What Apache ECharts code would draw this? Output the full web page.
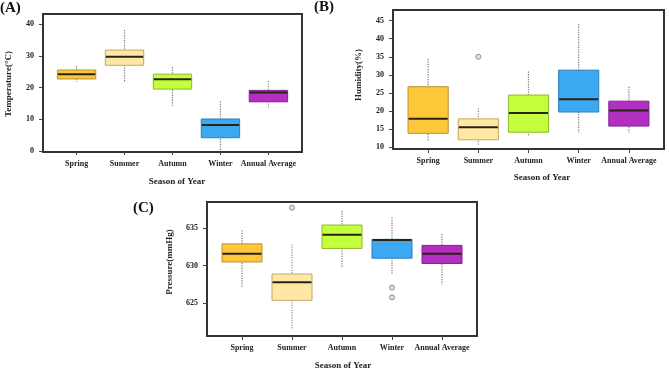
<!DOCTYPE html>
<html>
<head>
<meta charset="utf-8">
<script src="https://cdn.jsdelivr.net/npm/echarts@6/dist/echarts.min.js"></script>
<style>html,body{margin:0;padding:0;background:#fff}#c{width:669px;height:371px}</style>
</head>
<body>
<div id="c"></div>
<script>
// ---- data ----
const seasons = ['Spring', 'Summer', 'Autumn', 'Winter', 'Annual Average'];
// [min, Q1, median, Q3, max] per season
const tempStats = [
  [21.8, 22.7, 24.2, 25.5, 26.8],
  [21.8, 27.0, 29.7, 31.8, 38.1],
  [14.3, 19.5, 22.6, 24.2, 26.4],
  [0.0, 4.2, 8.2, 10.1, 15.7],
  [13.4, 15.5, 18.4, 19.1, 22.0]
];
const humidStats = [
  [11.9, 13.8, 17.8, 26.7, 34.4],
  [10.6, 12.0, 15.5, 17.8, 20.7],
  [12.9, 14.1, 19.4, 24.4, 30.9],
  [14.0, 19.7, 23.2, 31.3, 44.0],
  [14.0, 15.8, 20.1, 22.7, 26.7]
];
const pressStats = [
  [627.2, 630.5, 631.6, 632.9, 634.7],
  [621.5, 625.4, 627.8, 628.9, 632.8],
  [629.7, 632.3, 634.1, 635.4, 637.3],
  [628.8, 631.0, 633.4, 633.5, 636.4],
  [627.5, 630.3, 631.6, 632.7, 634.2]
];
const tempOutliers = [];
const humidOutliers = [['Summer', 35.0]];
const pressOutliers = [['Summer', 637.7], ['Winter', 627.1], ['Winter', 625.8]];
const tempTicks = [0, 10, 20, 30, 40];
const humidTicks = [10, 15, 20, 25, 30, 35, 40, 45];
const pressTicks = [625, 630, 635];

// ---- styles ----
const fillColors = ['#FFC73A', '#FFE8A6', '#C3FF3D', '#3BA9F2', '#B22FC1'];
const borderColors = ['#B8902F', '#C2A665', '#8FB82E', '#2A80B8', '#80228F'];
const FONT = '"Liberation Serif", "Times New Roman", serif';

const chart = echarts.init(document.getElementById('c'), null, {renderer: 'canvas'});
const catIdx = seasons.map((s, i) => i + 1);

function boxData(stats) {
  return stats.map((s, i) => [catIdx[i]].concat(s));
}
function outData(list) {
  return list.map(o => [seasons.indexOf(o[0]) + 1, o[1]]);
}
function renderBox(params, api) {
  const x = api.value(0);
  const lo = api.coord([x, api.value(1)]);
  const q1 = api.coord([x, api.value(2)]);
  const md = api.coord([x, api.value(3)]);
  const q3 = api.coord([x, api.value(4)]);
  const hi = api.coord([x, api.value(5)]);
  const w = api.size([0.8, 0])[0];
  const i = params.dataIndex;
  const cx = lo[0];
  return {
    type: 'group',
    children: [
      {type: 'line', shape: {x1: cx, y1: hi[1], x2: cx, y2: lo[1]},
       style: {stroke: '#7a7a7a', lineWidth: 1.2, lineDash: [1.2, 1.3]}},
      {type: 'rect', shape: {x: cx - w / 2, y: q3[1], width: w, height: q1[1] - q3[1]},
       style: {fill: fillColors[i], stroke: borderColors[i], lineWidth: 1}},
      {type: 'line', shape: {x1: cx - w / 2 + 0.5, y1: md[1], x2: cx + w / 2 - 0.5, y2: md[1]},
       style: {stroke: '#2a2212', lineWidth: 2}}
    ]
  };
}

const grids = [
  {left: 43, top: 14, width: 259, height: 138},
  {left: 393, top: 10, width: 271, height: 139},
  {left: 207, top: 202, width: 270, height: 134}
];
const yRanges = [[-0.3, 43.15], [9.45, 47.96], [620.67, 638.46]];
const yTicks = [tempTicks, humidTicks, pressTicks];
const allStats = [tempStats, humidStats, pressStats];
const allOut = [tempOutliers, humidOutliers, pressOutliers];

const option = {
  animation: false,
  backgroundColor: '#fff',
  grid: grids.map(g => Object.assign({show: true, borderColor: '#333', borderWidth: 2, backgroundColor: 'transparent'}, g)),
  xAxis: grids.map((g, k) => ({
    type: 'value', gridIndex: k, min: 0.3, max: 5.7,
    axisLine: {show: false},
    splitLine: {show: false},
    axisTick: {show: true, customValues: catIdx, length: 4, lineStyle: {color: '#444', width: 1}},
    axisLabel: {customValues: catIdx, formatter: v => seasons[Math.round(v) - 1],
      fontFamily: FONT, fontWeight: 'bold', fontSize: 8, color: '#222', margin: 8}
  })),
  yAxis: grids.map((g, k) => ({
    type: 'value', gridIndex: k, min: yRanges[k][0], max: yRanges[k][1],
    axisLine: {show: false},
    splitLine: {show: false},
    axisTick: {show: true, customValues: yTicks[k], length: 4, lineStyle: {color: '#444', width: 1}},
    axisLabel: {customValues: yTicks[k], fontFamily: FONT, fontWeight: 'bold', fontSize: 8, color: '#222', margin: 9}
  })),
  series: [].concat(
    allStats.map((st, k) => ({
      type: 'custom', xAxisIndex: k, yAxisIndex: k, renderItem: renderBox,
      encode: {x: 0, y: [1, 2, 3, 4, 5]}, clip: false,
      data: boxData(st)
    })),
    allOut.map((o, k) => ({
      type: 'scatter', xAxisIndex: k, yAxisIndex: k, symbol: 'circle', symbolSize: 5,
      itemStyle: {color: '#d8d8d8', borderColor: '#777', borderWidth: 1},
      data: outData(o)
    }))
  ),
  graphic: [
    {type: 'text', x: 0, y: 8, style: {text: '(A)', font: 'bold 15px ' + FONT, fill: '#111', align: 'left', verticalAlign: 'middle'}},
    {type: 'text', x: 314, y: 7, style: {text: '(B)', font: 'bold 15px ' + FONT, fill: '#111', align: 'left', verticalAlign: 'middle'}},
    {type: 'text', x: 133, y: 208, style: {text: '(C)', font: 'bold 15px ' + FONT, fill: '#111', align: 'left', verticalAlign: 'middle'}},
    {type: 'text', x: 9, y: 84, rotation: Math.PI / 2, style: {text: 'Temperature(°C)', font: 'bold 9px ' + FONT, fill: '#222', align: 'center', verticalAlign: 'middle'}},
    {type: 'text', x: 359, y: 75, rotation: Math.PI / 2, style: {text: 'Humidity(%)', font: 'bold 9px ' + FONT, fill: '#222', align: 'center', verticalAlign: 'middle'}},
    {type: 'text', x: 170, y: 262, rotation: Math.PI / 2, style: {text: 'Pressure(mmHg)', font: 'bold 9px ' + FONT, fill: '#222', align: 'center', verticalAlign: 'middle'}},
    {type: 'text', x: 177, y: 182, style: {text: 'Season of Year', font: 'bold 9px ' + FONT, fill: '#222', align: 'center', verticalAlign: 'middle'}},
    {type: 'text', x: 542, y: 178, style: {text: 'Season of Year', font: 'bold 9px ' + FONT, fill: '#222', align: 'center', verticalAlign: 'middle'}},
    {type: 'text', x: 343, y: 366, style: {text: 'Season of Year', font: 'bold 9px ' + FONT, fill: '#222', align: 'center', verticalAlign: 'middle'}}
  ]
};
chart.setOption(option);
</script>
</body>
</html>
